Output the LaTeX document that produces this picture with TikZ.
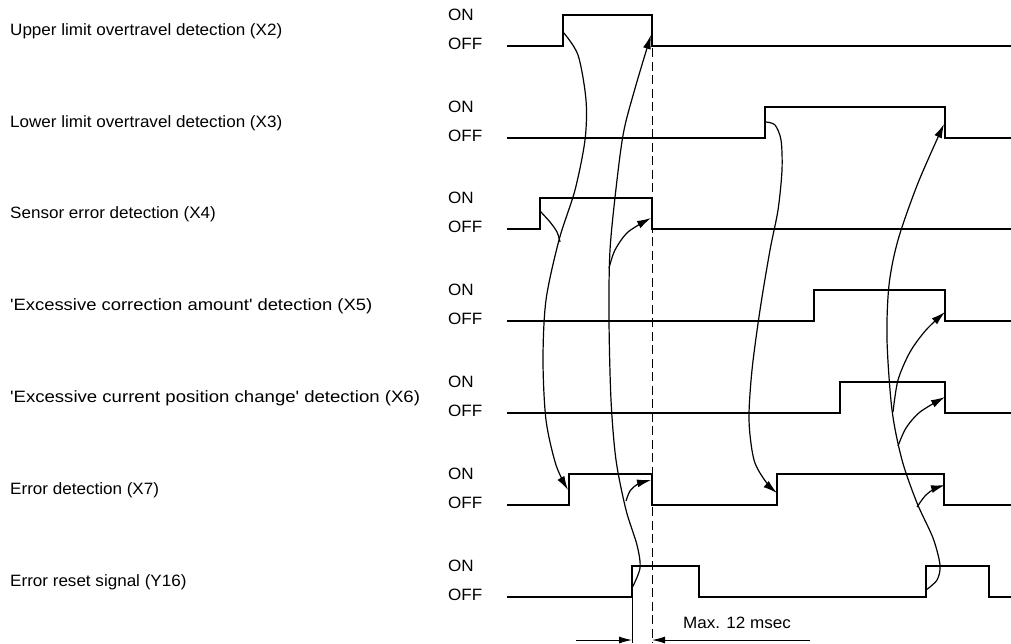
\documentclass[tikz,border=0pt]{standalone}
\usepackage{fontspec}
\setmainfont{Liberation Sans}[FakeStretch=1.04]
\usetikzlibrary{arrows.meta}
\begin{document}
\begin{tikzpicture}[x=1pt,y=-1pt,
  sig/.style={line width=1.9pt, line join=miter},
  crv/.style={line width=1.2pt},
  arr/.style={crv,-{Latex[length=14pt,width=8pt]}},
  lbl/.style={anchor=west, inner sep=0pt, font=\fontsize{16.4}{19}\selectfont},
  onoff/.style={anchor=west, inner sep=0pt, font=\fontsize{16.4}{19}\selectfont},
  dim/.style={line width=1pt}]
\useasboundingbox (0,0) rectangle (1011,643);
% left labels
\node[lbl] (l1) at (10,31) {Upper limit overtravel detection (X2)};
\node[lbl] (l2) at (10,123) {Lower limit overtravel detection (X3)};
\node[lbl] (l3) at (10,214) {Sensor error detection (X4)};
\node[lbl] (l4) at (10,306) {\scalebox{1.08}[1]{\textquotesingle Excessive correction amount\textquotesingle{} detection (X5)}};
\node[lbl] (l5) at (10,398) {\scalebox{1.09}[1]{\textquotesingle Excessive current position change\textquotesingle{} detection (X6)}};
\node[lbl] (l6) at (10,490) {Error detection (X7)};
\node[lbl] (l7) at (10,582) {Error reset signal (Y16)};
% ON/OFF
\foreach \L/\n in {46/a,138/b,229/c,321/d,413/e,505/f,597/g}{
  \node[onoff] (on\n) at (448,\L-31) {ON};
  \node[onoff] (off\n) at (448,\L-2) {OFF};
}
% waveforms
\draw[sig] (507,46) -- (563,46) -- (563,15) -- (652,15) -- (652,46) -- (1011,46);
\draw[sig] (507,138) -- (765,138) -- (765,107) -- (945,107) -- (945,138) -- (1011,138);
\draw[sig] (507,229) -- (540,229) -- (540,198) -- (652,198) -- (652,229) -- (1011,229);
\draw[sig] (507,321) -- (814,321) -- (814,290) -- (945,290) -- (945,321) -- (1011,321);
\draw[sig] (507,413) -- (840,413) -- (840,382) -- (945,382) -- (945,413) -- (1011,413);
\draw[sig] (507,505) -- (569,505) -- (569,474) -- (652,474) -- (652,505) -- (777,505) -- (777,474) -- (944,474) -- (944,505) -- (1011,505);
\draw[sig] (507,597) -- (632,597) -- (632,566) -- (699,566) -- (699,597) -- (926,597) -- (926,566) -- (989,566) -- (989,597) -- (1011,597);
% dashed reference and extension lines
\draw[line width=1pt, dash pattern=on 9pt off 4.5pt] (652,48) -- (652,643);
\draw[dim] (632,597) -- (632,643);
% dimension
\coordinate (d1) at (576,640);
\coordinate (d2) at (632,640);
\coordinate (d3) at (652,640);
\coordinate (d4) at (810,640);
\draw[dim,-{Latex[length=13pt,width=7pt]}] (d1) -- (d2);
\draw[dim,-{Latex[length=13pt,width=7pt]}] (d4) -- (d3);
\node[anchor=west, inner sep=0pt, font=\fontsize{16.4}{19}\selectfont] (max) at (683,623) {Max. 12 msec};
% causal curves
\draw[arr] plot[smooth] coordinates {(563,32) (578,55) (586,100) (585,140) (575,190) (559,240) (546,300) (543,360) (546,420) (556,465) (568,490)};
\draw[crv] plot[smooth] coordinates {(540,211) (550,222) (557,232) (560,242)};
\draw[arr] plot[smooth] coordinates {(632,588) (640,568) (637,545) (626,510) (616,460) (611,400) (609,320) (610,250) (617,180) (624,130) (636,85) (651,35)};
\draw[arr] plot[smooth] coordinates {(609,268) (615,250) (628,232) (651,218)};
\draw[arr] plot[smooth] coordinates {(626,501) (630,491) (638,484) (651,480)};
\draw[arr] plot[smooth] coordinates {(766,122) (775,125) (781,140) (782,170) (778,210) (770,250) (760,310) (752,370) (749,420) (754,460) (766,482) (777,493)};
\draw[arr] plot[smooth] coordinates {(926,590) (937,580) (940,565) (933,538) (917,503) (902,460) (892,410) (887,340) (889,285) (898,240) (918,183) (944,124)};
\draw[arr] plot[smooth] coordinates {(893,412) (898,380) (910,352) (926,330) (945,312)};
\draw[arr] plot[smooth] coordinates {(898,446) (906,428) (920,412) (945,397)};
\draw[arr] plot[smooth] coordinates {(917,507) (925,496) (934,489) (945,485)};
\end{tikzpicture}
\end{document}
